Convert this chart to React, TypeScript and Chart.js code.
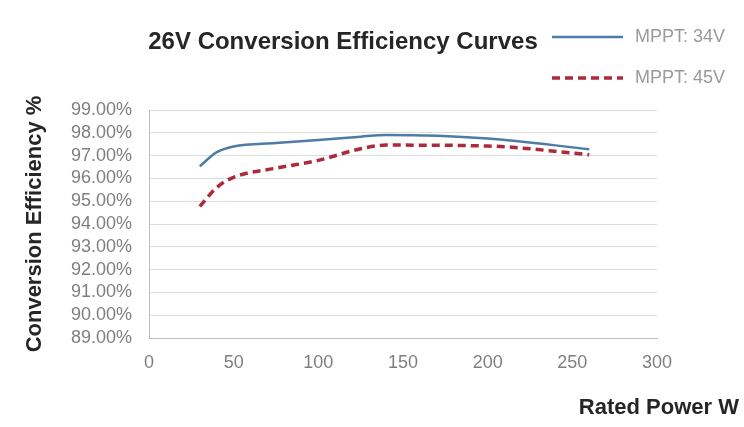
import { useEffect, useRef } from "react";
import { Chart, registerables } from "chart.js";

Chart.register(...registerables);

const TITLE = "26V Conversion Efficiency Curves";
const X_TITLE = "Rated Power W";
const Y_TITLE = "Conversion Efficiency %";
const SERIES_NAMES = ["MPPT: 34V", "MPPT: 45V"];
const SERIES_COLORS = ["#4d7ca6", "#ad2a3a"];
const POWER_W = [30, 40, 50, 75, 100, 125, 140, 200, 260];
const EFF_34V = [96.53, 97.15, 97.4, 97.55, 97.68, 97.83, 97.9, 97.75, 97.28];
const EFF_45V = [94.77, 95.6, 96.05, 96.45, 96.79, 97.3, 97.46, 97.42, 97.04];
const X_MIN = 0;
const X_MAX = 300;
const X_STEP = 50;
const Y_MIN = 89;
const Y_MAX = 99;
const Y_STEP = 1;

const FONT = '"Liberation Sans", Arial, sans-serif';

const overlayPlugin = {
  id: "overlay",
  afterDraw(chart: any) {
    const ctx = chart.ctx as CanvasRenderingContext2D;
    ctx.save();
    // main title
    ctx.font = `bold 24px ${FONT}`;
    ctx.fillStyle = "#262626";
    ctx.textAlign = "center";
    ctx.textBaseline = "middle";
    ctx.fillText(TITLE, 343, 42);

    // legend
    const rows = [37, 78];
    SERIES_NAMES.forEach((name, i) => {
      const y = rows[i];
      ctx.beginPath();
      ctx.strokeStyle = SERIES_COLORS[i];
      ctx.lineWidth = i === 0 ? 2.5 : 3.5;
      ctx.setLineDash(i === 0 ? [] : [8, 5]);
      ctx.moveTo(552, y);
      ctx.lineTo(623, y);
      ctx.stroke();
      ctx.setLineDash([]);
      ctx.font = `18px ${FONT}`;
      ctx.fillStyle = "#9a9a9a";
      ctx.textAlign = "left";
      ctx.textBaseline = "middle";
      ctx.fillText(name, 635, y);
    });

    // x-axis title
    ctx.font = `bold 22px ${FONT}`;
    ctx.fillStyle = "#262626";
    ctx.textAlign = "right";
    ctx.textBaseline = "middle";
    ctx.fillText(X_TITLE, 739, 408);
    ctx.restore();
  },
};

export default function App() {
  const ref = useRef<HTMLCanvasElement>(null);
  useEffect(() => {
    if (!ref.current) return;
    Chart.defaults.font.family = FONT;
    const chart = new Chart(ref.current, {
      type: "line",
      data: {
        datasets: [
          {
            label: SERIES_NAMES[0],
            data: POWER_W.map((x, i) => ({ x, y: EFF_34V[i] })),
            borderColor: SERIES_COLORS[0],
            borderWidth: 2.5,
            pointRadius: 0,
            fill: false,
            cubicInterpolationMode: "monotone",
          },
          {
            label: SERIES_NAMES[1],
            data: POWER_W.map((x, i) => ({ x, y: EFF_45V[i] })),
            borderColor: SERIES_COLORS[1],
            borderWidth: 3.5,
            borderDash: [8, 5],
            pointRadius: 0,
            fill: false,
            cubicInterpolationMode: "monotone",
          },
        ],
      },
      options: {
        animation: false,
        responsive: false,
        maintainAspectRatio: false,
        layout: { padding: { left: 0, top: 110, right: 87, bottom: 49 } },
        plugins: {
          legend: { display: false },
          title: { display: false },
          tooltip: { enabled: false },
        },
        scales: {
          x: {
            type: "linear",
            min: X_MIN,
            max: X_MAX,
            afterFit: (s: any) => {
              s.height = 40;
            },
            ticks: {
              stepSize: X_STEP,
              color: "#7f7f7f",
              font: { size: 18 },
              padding: 14,
              maxRotation: 0,
              autoSkip: false,
            },
            grid: { display: true, color: "rgba(0,0,0,0)", drawTicks: false },
            border: { display: true, color: "#bfbfbf", width: 1 },
          },
          y: {
            type: "linear",
            min: Y_MIN,
            max: Y_MAX,
            afterFit: (s: any) => {
              s.width = 149;
            },
            ticks: {
              stepSize: Y_STEP,
              color: "#7f7f7f",
              font: { size: 18 },
              padding: 17,
              autoSkip: false,
              callback: (v: any) => Number(v).toFixed(2) + "%",
            },
            grid: { color: "#dcdcdc", drawTicks: false, lineWidth: 1 },
            border: { display: true, color: "#bfbfbf", width: 1 },
            title: {
              display: true,
              text: Y_TITLE,
              color: "#262626",
              font: { size: 22, weight: "bold" },
              padding: { top: 22, bottom: 0 },
            },
          },
        },
      },
      plugins: [overlayPlugin],
    });
    return () => chart.destroy();
  }, []);
  return (
    <div style={{ position: "absolute", left: 0, top: 0, width: 744, height: 427, background: "#fff" }}>
      <canvas ref={ref} width={744} height={427} style={{ width: 744, height: 427, display: "block" }} />
    </div>
  );
}
